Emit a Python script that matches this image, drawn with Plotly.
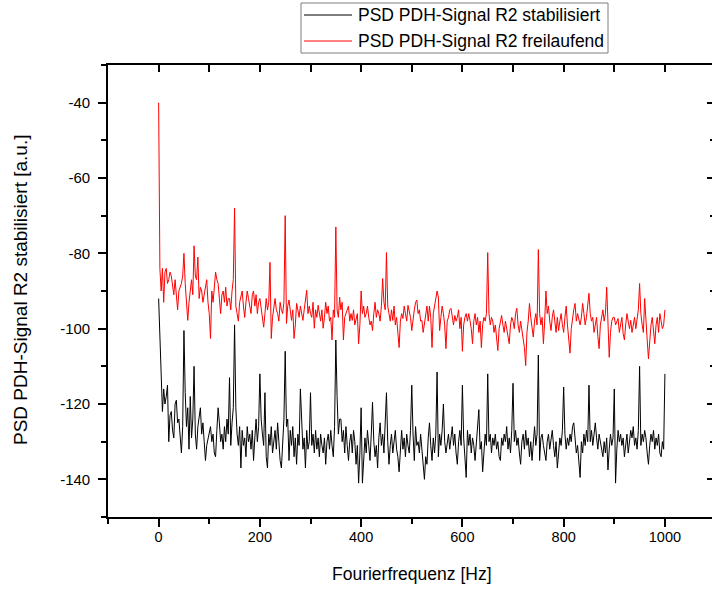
import plotly.graph_objects as go

# Frequency sampling of the spectra (Hz)
freq_start_hz = 0.0
freq_step_hz = 2.5

# PSD PDH-Signal R2 stabilisiert (0 ... 1000 Hz)
psd_stabilisiert = [
    -92, -104, -110, -122, -116, -120, -118, -115, -130, -123, -122, -127, -129, -120, -119, -125, -124, -128, -133, -126,
    -100.5, -117, -126, -121, -132, -118, -129, -124, -110, -128, -132, -126, -124, -121, -128, -125, -130, -135, -131, -129,
    -127, -126, -130, -128, -133, -134, -127, -121, -125, -130, -128, -132, -126, -130, -124, -128, -113, -131, -125, -121,
    -99, -121, -128, -131, -126, -137, -127, -131, -129, -134, -126, -130, -128, -132, -127, -135, -129, -124, -130, -126,
    -112, -124, -128, -131, -117, -134, -137, -128, -131, -126, -133, -129, -127, -132, -125, -130, -135, -137, -128, -124,
    -106, -126, -124, -135, -127, -131, -126, -134, -129, -136, -128, -131, -116, -127, -132, -129, -137, -127, -132, -130,
    -117, -131, -128, -133, -127, -132, -129, -134, -128, -131, -133, -129, -136, -130, -128, -132, -127, -131, -134, -126,
    -103, -118, -128, -124, -124, -130, -127, -133, -126, -131, -135, -130, -128, -133, -127, -130, -136, -131, -141, -133,
    -121, -141, -136, -129, -133, -127, -131, -135, -128, -119.5, -130, -134, -131, -137, -129, -125, -131, -128, -133, -126,
    -117, -130, -136, -131, -128, -133, -129, -127, -132, -134, -138, -131, -127, -132, -129, -134, -128, -131, -133, -127,
    -115, -128, -135, -126, -131, -130, -133, -128, -132, -137, -140, -134, -136, -129, -125, -131, -135, -129, -133, -128,
    -111.5, -134, -128, -131, -127, -120, -130, -133, -130, -128, -132, -129, -126, -131, -128, -133, -136, -130, -127, -131,
    -115, -129, -134, -139.5, -127, -131, -128, -133, -129, -131, -135, -130, -127, -121.5, -132, -130, -138, -133, -128, -131,
    -112, -130, -128, -133, -129, -131, -128, -132, -130, -134, -135, -129, -131, -128, -130, -126, -132, -129, -133, -127,
    -114.5, -130, -127, -131, -129, -133, -136, -130, -128, -132, -127, -131, -129, -134, -130, -135, -129, -126, -131, -128,
    -107, -135, -129, -128, -131, -133, -135, -130, -128, -132, -129, -127, -131, -134, -130, -137, -133, -129, -131, -127,
    -115.5, -128, -132, -129, -131, -128, -130, -126, -125, -130, -133, -131, -135, -139.5, -130, -133, -128, -131, -127, -130,
    -115, -130, -127, -131, -128, -125, -129, -132, -128, -130, -131, -134, -130, -133, -129, -137.5, -132, -128, -131, -129,
    -116, -141, -132, -127, -130, -128, -131, -129, -134, -131, -128, -133, -130, -127, -129, -126, -131, -129, -132, -127,
    -110, -131, -128, -130, -127, -129, -133, -136, -131, -128, -130, -127, -132, -129, -131, -128, -133, -134, -130, -132,
    -112,
]

# PSD PDH-Signal R2 freilaufend (0 ... 1000 Hz)
psd_freilaufend = [
    -40, -84, -90, -84, -93, -85, -84, -88, -87, -85, -86, -89, -91, -87, -92, -95, -90, -89, -88, -86,
    -80, -88, -92, -97.8, -93, -90, -87, -91, -78, -86, -87, -81, -92, -89, -90, -93, -91, -88, -87, -93,
    -96, -102.6, -90, -93, -88, -85, -87, -88, -92, -96, -91, -90, -93, -89, -94, -92, -92, -95, -90, -87,
    -68, -94, -96, -98, -93, -91, -90, -94, -97, -93, -90, -92, -94, -96, -91, -90, -94, -91, -96, -93,
    -92, -95, -97, -99.6, -96, -92, -95, -93, -82.4, -102.6, -97, -95, -92, -95, -96, -98, -93, -95, -96, -93,
    -70, -98.6, -94, -92.4, -96, -97.8, -95, -102.6, -99, -93.3, -95, -97, -94, -96, -97.8, -95, -93, -89.8, -96, -94,
    -96, -97, -93, -99.9, -95, -97, -93.8, -96, -98, -95, -99.9, -97, -93, -96, -94, -98, -97, -103, -95, -97,
    -73, -95, -97, -91.6, -95, -93, -103, -97, -96, -95, -94, -98, -96, -97.8, -95, -99, -97, -96, -104, -99,
    -90, -96, -94, -97, -96, -94, -97, -99, -98, -100.5, -96, -93, -97, -95, -96, -98, -94, -86.7, -93, -95,
    -79.8, -94, -96, -98, -95, -97.8, -94, -99, -97, -101, -105, -98, -96, -97.3, -94, -96, -98, -93.8, -96, -97,
    -100.5, -97, -95, -93, -92.4, -96, -95, -98, -97.8, -101, -99, -96, -94, -98, -94, -97, -105, -96, -94, -92,
    -90, -91.6, -100.5, -97, -94, -96, -99, -105.3, -98, -97, -95, -94.6, -97, -99, -96.5, -98, -97, -95, -100, -97,
    -106, -99, -97, -96, -98, -96, -97.8, -100, -104, -98, -96, -99, -97, -101, -98, -105, -99, -97, -98, -96,
    -79.8, -96, -99, -97, -98, -101, -99, -102, -105.8, -100, -98, -96.5, -99, -101, -98, -100, -102, -104, -99, -97,
    -98, -100, -96, -94.6, -99, -101, -98, -100, -102, -105, -109.8, -101, -98, -93.3, -97, -100, -102.2, -98, -96, -99,
    -79, -96, -99, -97, -104, -98, -90, -96, -94, -98, -100.5, -97, -95, -98, -101, -97, -100.5, -98, -96, -99,
    -101, -97, -94, -99, -103, -106.5, -100, -97, -95, -93.3, -98, -96, -97.8, -99, -97, -93.3, -96, -99, -97, -94,
    -90.6, -96, -98, -97, -101, -99, -97, -102, -105.3, -99, -97, -95, -98, -96, -89, -100, -107.6, -101, -98, -97,
    -97, -99, -98, -97.3, -101, -99, -97, -101.3, -103, -99, -96, -98, -100, -97.8, -101, -99, -97, -100, -98, -95,
    -88, -96, -99, -101, -92, -99, -103, -108, -102, -99, -97, -100, -104, -99, -97, -101, -96, -98, -100, -99,
    -95,
]

series_names = ["PSD PDH-Signal R2 stabilisiert", "PSD PDH-Signal R2 freilaufend"]
series_colors = ["#000000", "#ff0000"]

x_title = "Fourierfrequenz [Hz]"
y_title = "PSD PDH-Signal R2 stabilisiert [a.u.]"
x_range = [-100, 1093]
y_range = [-150, -30]
x_tick_values = [0, 200, 400, 600, 800, 1000]
x_tick_labels = ["0", "200", "400", "600", "800", "1000"]
y_tick_values = [-140, -120, -100, -80, -60, -40]
y_tick_labels = ["-140", "-120", "-100", "-80", "-60", "-40"]

FONT = "Liberation Sans, Arial, sans-serif"

fig = go.Figure()
for name, ys, col in zip(series_names, [psd_stabilisiert, psd_freilaufend], series_colors):
    fig.add_trace(go.Scatter(
        x0=freq_start_hz, dx=freq_step_hz, y=ys, mode="lines", name=name,
        line=dict(color=col, width=1), showlegend=False,
    ))

W, H = 712, 590
ML, MR, MT, MB = 108, 0, 65, 73
pw, ph = W - ML - MR, H - MT - MB

def px_x(px):
    return (px - ML) / pw

def px_y(py):
    return (H - MB - py) / ph

axis_common = dict(showgrid=False, zeroline=False, color="black")

fig.update_layout(
    width=W, height=H,
    margin=dict(l=ML, r=MR, t=MT, b=MB, pad=0),
    paper_bgcolor="white", plot_bgcolor="white",
    font=dict(family=FONT, color="black", size=14.5),
    xaxis=dict(
        **axis_common, range=x_range, showline=True, linewidth=1.6, linecolor="black",
        ticks="outside", ticklen=8, tickwidth=1.5, tickcolor="black",
        tickmode="array", tickvals=x_tick_values, ticktext=x_tick_labels,
        tickfont=dict(size=14.5, family=FONT), ticklabelstandoff=-2,
        minor=dict(ticks="outside", ticklen=5, tickwidth=1.5, tickcolor="black", tick0=0, dtick=100),
    ),
    xaxis2=dict(
        **axis_common, range=x_range, overlaying="x", side="top", anchor="y",
        showline=True, linewidth=1.5, linecolor="black",
        ticks="inside", ticklen=7, tickwidth=1.5, tickcolor="black",
        tick0=0, dtick=100, showticklabels=False,
    ),
    yaxis=dict(
        **axis_common, range=y_range, showline=True, linewidth=1.6, linecolor="black",
        ticks="outside", ticklen=8, tickwidth=1.5, tickcolor="black",
        tickmode="array", tickvals=y_tick_values, ticktext=y_tick_labels,
        tickfont=dict(size=15, family=FONT), ticklabelstandoff=5,
        minor=dict(ticks="outside", ticklen=5, tickwidth=1.5, tickcolor="black", tick0=0, dtick=10),
    ),
    yaxis2=dict(
        **axis_common, range=y_range, overlaying="y", side="right", anchor="x",
        showline=False, ticks="inside", ticklen=5, tickwidth=1.5, tickcolor="black",
        tick0=0, dtick=20, showticklabels=False,
        minor=dict(ticks="inside", ticklen=2, tickwidth=1.5, tickcolor="black", tick0=0, dtick=10),
    ),
)

# invisible helper trace so the overlay axes are rendered
fig.add_trace(go.Scatter(x=[None], y=[None], xaxis="x2", yaxis="y2", showlegend=False, hoverinfo="skip"))

annotations = [
    dict(text=x_title, xref="paper", yref="paper", x=px_x(412), y=px_y(574),
         xanchor="center", yanchor="middle", showarrow=False, font=dict(size=17.5, family=FONT)),
    dict(text=y_title, xref="paper", yref="paper", x=px_x(20), y=px_y(290),
         xanchor="center", yanchor="middle", textangle=-90, showarrow=False,
         font=dict(size=19, family=FONT)),
]

# legend box drawn by hand (Origin style)
shapes = [
    dict(type="rect", xref="paper", yref="paper", x0=px_x(301), x1=px_x(608), y0=px_y(53), y1=px_y(3),
         line=dict(color="#7f7f7f", width=1), fillcolor="white", layer="above"),
]
legend_rows_y = [15, 41]
for name, col, ry in zip(series_names, series_colors, legend_rows_y):
    shapes.append(dict(type="line", xref="paper", yref="paper", x0=px_x(304), x1=px_x(352),
                       y0=px_y(ry), y1=px_y(ry), line=dict(color=col, width=1)))
    annotations.append(dict(text=name, xref="paper", yref="paper", x=px_x(356), y=px_y(ry),
                            xanchor="left", yanchor="middle", showarrow=False,
                            font=dict(size=17.5, family=FONT)))

fig.update_layout(annotations=annotations, shapes=shapes)

fig.write_html("out.html")
